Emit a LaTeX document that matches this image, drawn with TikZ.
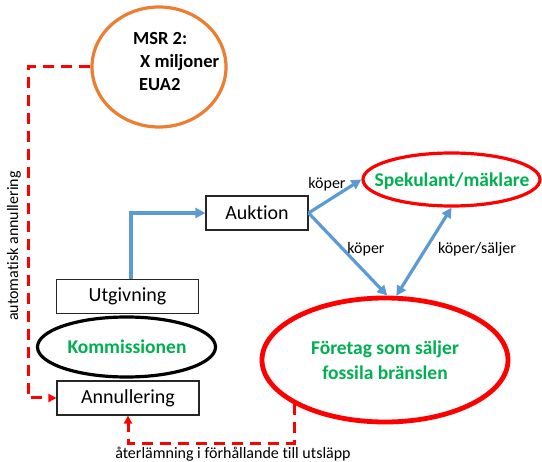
\documentclass[tikz,border=0pt]{standalone}
\usepackage{fontspec}
\setmainfont{Carlito}[Ligatures={NoCommon}]
\usetikzlibrary{shapes.geometric,arrows.meta,calc}
\definecolor{obl}{HTML}{5B9BD5}
\definecolor{ogr}{HTML}{00B050}
\definecolor{oor}{HTML}{ED7D31}
\tikzset{
  box/.style={draw=black!85,line width=1.2pt,minimum width=142pt,minimum height=34pt,inner sep=0pt,font=\fontsize{20}{24}\selectfont},
  oval/.style={ellipse,inner sep=0pt},
  greentext/.style={text=ogr,font=\fontsize{19.5}{25}\selectfont\bfseries,align=center},
  bluearrow/.style={draw=obl,line width=3.2pt,-{Triangle[length=10pt,width=10pt]}},
  bluedouble/.style={draw=obl,line width=3.2pt,{Triangle[length=10pt,width=10pt]}-{Triangle[length=10pt,width=10pt]}},
  reddash/.style={draw=red,line width=3pt,dash pattern=on 11pt off 7pt,-{Triangle[length=8pt,width=8pt]}},
  small/.style={font=\fontsize{16}{19}\selectfont,inner sep=0pt},
}
\begin{document}
\begin{tikzpicture}[x=1pt,y=-1pt]
\useasboundingbox (0,0) rectangle (542,462);
% MSR
\node[oval,draw=oor,line width=3.2pt,minimum width=134pt,minimum height=120pt] (msr) at (159,67) {};
\node[font=\fontsize{18.5}{23}\selectfont\bfseries,align=left,inner sep=0pt,anchor=north west] (msrt) at (133,32) {MSR 2:\\\hspace{7pt}X miljoner\\\hspace{6pt}EUA2};
% boxes
\node[box,minimum width=102pt] (auk) at (257,213) {Auktion};
\node[box] (ut) at (127.5,296.5) {Utgivning};
\node[box] (ann) at (128,398) {Annullering};
% ovals
\node[oval,draw=black,line width=3.2pt,minimum width=178pt,minimum height=60pt] (kom) at (126.5,347) {};
\node[greentext,inner sep=0pt] (komt) at (127,347) {Kommissionen};
\node[oval,draw=red,line width=4.8pt,minimum width=246pt,minimum height=124pt,greentext] (fo) at (385,360) {Företag som säljer\\fossila bränslen};
\node[oval,draw=red,line width=3.2pt,minimum width=177pt,minimum height=53pt] (sp) at (451.5,179.5) {};
\node[greentext,inner sep=0pt] (spt) at (452,181) {Spekulant/mäklare};
% blue arrows
\draw[bluearrow] ([xshift=3.5pt]ut.north) |- (auk.west);
\draw[bluearrow] (auk.east) -- (sp.west);
\draw[bluearrow] (auk.east) -- (fo.88);
\draw[bluedouble] (sp.south) -- (fo.80);
\node[small] (k1) at (327,184) {köper};
\node[small] (k2) at (366,249) {köper};
\node[small] (k3) at (477,249) {köper/säljer};
% red dashed
\coordinate (c1) at (28,67);
\draw[reddash] (msr.west) -- (c1) |- (ann.west);
\node[small,rotate=90] (aa) at (14,246) {automatisk annullering};
\draw[reddash] (fo.206.8) -- ++(0,39) -| (ann.south);
\node[small,anchor=base] (at) at (233,459) {återlämning i förhållande till utsläpp};
\end{tikzpicture}
\end{document}
